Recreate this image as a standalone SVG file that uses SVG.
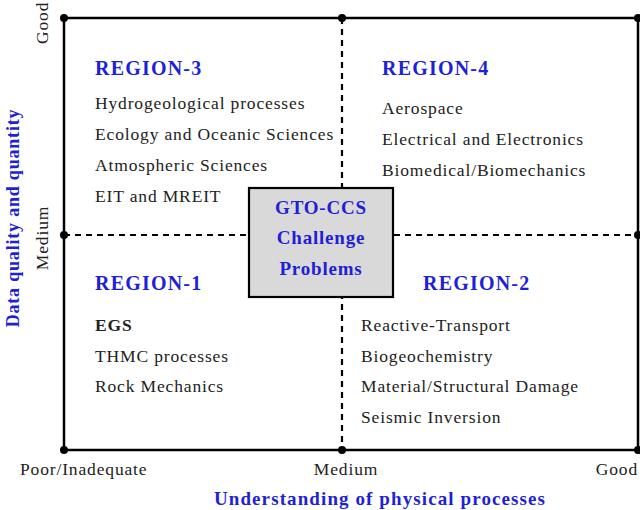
<svg xmlns="http://www.w3.org/2000/svg" width="640" height="510" viewBox="0 0 640 510">
<style>
text{font-family:"Liberation Serif","DejaVu Serif",serif;fill:#222}
.r{font-weight:bold;fill:#1f1fd6;font-size:20px;letter-spacing:1.2px}
.i{font-size:17.5px;letter-spacing:0.85px}
.b{font-weight:bold;fill:#1f1fd6;font-size:19px;letter-spacing:0.8px}
.d{stroke:#000;stroke-width:2.2;stroke-dasharray:6,5;fill:none}
</style>
<rect width="640" height="510" fill="#fff"/>
<g id="connectors">
<rect x="64" y="18" width="574" height="432" fill="none" stroke="#000" stroke-width="2.5"/>
<line class="d" x1="342" y1="18" x2="342" y2="450"/>
<line class="d" x1="64" y1="235" x2="638" y2="235"/>
<g fill="#000">
<circle cx="64" cy="18" r="4"/><circle cx="342" cy="18" r="4"/><circle cx="638" cy="18" r="4"/>
<circle cx="64" cy="235" r="4"/><circle cx="638" cy="235" r="4"/>
<circle cx="64" cy="450" r="4"/><circle cx="342" cy="450" r="4"/><circle cx="638" cy="450" r="4"/>
</g>
</g>
<g id="center">
<rect x="249" y="188" width="144" height="109" fill="#d9d9d9" stroke="#000" stroke-width="2.2"/>
<text class="b" x="321" y="214" text-anchor="middle">GTO-CCS</text>
<text class="b" x="321" y="244" text-anchor="middle">Challenge</text>
<text class="b" x="321" y="275" text-anchor="middle">Problems</text>
</g>
<g id="region3">
<text class="r" x="95" y="75">REGION-3</text>
<text class="i" x="95" y="109">Hydrogeological processes</text>
<text class="i" x="95" y="140">Ecology and Oceanic Sciences</text>
<text class="i" x="95" y="171">Atmospheric Sciences</text>
<text class="i" x="95" y="202">EIT and MREIT</text>
</g>
<g id="region4">
<text class="r" x="382" y="75">REGION-4</text>
<text class="i" x="382" y="114">Aerospace</text>
<text class="i" x="382" y="145">Electrical and Electronics</text>
<text class="i" x="382" y="176">Biomedical/Biomechanics</text>
</g>
<g id="region1">
<text class="r" x="95" y="290">REGION-1</text>
<text class="i" x="95" y="331" font-weight="bold" font-size="19">EGS</text>
<text class="i" x="95" y="362">THMC processes</text>
<text class="i" x="95" y="392">Rock Mechanics</text>
</g>
<g id="region2">
<text class="r" x="423" y="290">REGION-2</text>
<text class="i" x="361" y="331">Reactive-Transport</text>
<text class="i" x="361" y="362">Biogeochemistry</text>
<text class="i" x="361" y="392">Material/Structural Damage</text>
<text class="i" x="361" y="423">Seismic Inversion</text>
</g>
<g id="axes">
<text class="i" x="20" y="475">Poor/Inadequate</text>
<text class="i" x="346" y="475" text-anchor="middle">Medium</text>
<text class="i" x="638" y="475" text-anchor="end">Good</text>
<text class="r" x="380" y="505" text-anchor="middle" style="font-size:19px;letter-spacing:1.1px">Understanding of physical processes</text>
<text class="i" transform="translate(48,44) rotate(-90)">Good</text>
<text class="i" transform="translate(48,238) rotate(-90)" text-anchor="middle">Medium</text>
<text class="r" transform="translate(19,218) rotate(-90)" text-anchor="middle" style="font-size:18px;letter-spacing:0.8px">Data quality and quantity</text>
</g>
</svg>
